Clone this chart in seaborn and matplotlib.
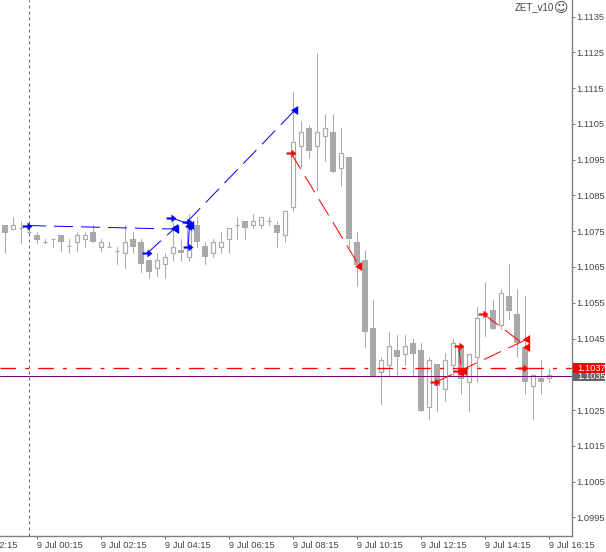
import pandas as pd
import seaborn as sns
import matplotlib.pyplot as plt
from matplotlib.path import Path
from matplotlib.patches import Rectangle
from matplotlib.transforms import blended_transform_factory

# 15 min candles, 9 Jul
opens = [1.10768, 1.10757, 1.10758, 1.10747, 1.10739, 1.10720, 1.10727, 1.10739, 1.10709, 1.10719,
         1.10727, 1.10748, 1.10707, 1.10707, 1.10696, 1.10688, 1.10727, 1.10720, 1.10670, 1.10648,
         1.10657, 1.10688, 1.10698, 1.10677, 1.10768, 1.10709, 1.10688, 1.10707, 1.10727, 1.10767,
         1.10778, 1.10767, 1.10767, 1.10778, 1.10767, 1.10739, 1.10817, 1.10987, 1.11038, 1.10987,
         1.11017, 1.11028, 1.10928, 1.10959, 1.10720, 1.10670, 1.10480, 1.10357, 1.10377, 1.10418,
         1.10408, 1.10438, 1.10418, 1.10258, 1.10379, 1.10308, 1.10377, 1.10427, 1.10327, 1.10397,
         1.10522, 1.10529, 1.10487, 1.10569, 1.10519, 1.10427, 1.10318, 1.10339, 1.10339]
closes = [1.10746, 1.10767, 1.10758, 1.10747, 1.10726, 1.10720, 1.10727, 1.10719, 1.10709, 1.10739,
          1.10739, 1.10719, 1.10719, 1.10707, 1.10696, 1.10719, 1.10707, 1.10657, 1.10637, 1.10670,
          1.10677, 1.10707, 1.10688, 1.10781, 1.10719, 1.10677, 1.10719, 1.10719, 1.10758, 1.10767,
          1.10758, 1.10778, 1.10789, 1.10778, 1.10746, 1.10807, 1.10999, 1.11027, 1.10975, 1.11027,
          1.11038, 1.10917, 1.10968, 1.10727, 1.10656, 1.10467, 1.10345, 1.10389, 1.10428, 1.10397,
          1.10428, 1.10408, 1.10248, 1.10389, 1.10317, 1.10389, 1.10437, 1.10338, 1.10408, 1.10507,
          1.10522, 1.10478, 1.10577, 1.10528, 1.10437, 1.10327, 1.10347, 1.10327, 1.10347]
highs = [1.10768, 1.10789, 1.10778, 1.10759, 1.10748, 1.10728, 1.10727, 1.10739, 1.10727, 1.10748,
         1.10748, 1.10767, 1.10727, 1.10719, 1.10707, 1.10767, 1.10748, 1.10727, 1.10670, 1.10688,
         1.10688, 1.10777, 1.10727, 1.10798, 1.10789, 1.10721, 1.10727, 1.10748, 1.10758, 1.10789,
         1.10778, 1.10798, 1.10789, 1.10789, 1.10778, 1.10807, 1.11140, 1.11059, 1.11047, 1.11248,
         1.11078, 1.11078, 1.11039, 1.10959, 1.10748, 1.10698, 1.10558, 1.10398, 1.10467, 1.10460,
         1.10460, 1.10449, 1.10438, 1.10398, 1.10379, 1.10410, 1.10449, 1.10427, 1.10408, 1.10539,
         1.10607, 1.10558, 1.10588, 1.10659, 1.10588, 1.10569, 1.10347, 1.10390, 1.10367]
lows = [1.10689, 1.10757, 1.10718, 1.10739, 1.10718, 1.10718, 1.10707, 1.10696, 1.10689, 1.10696,
        1.10707, 1.10719, 1.10696, 1.10707, 1.10657, 1.10648, 1.10688, 1.10637, 1.10618, 1.10626,
        1.10618, 1.10668, 1.10668, 1.10668, 1.10707, 1.10657, 1.10677, 1.10688, 1.10688, 1.10727,
        1.10727, 1.10758, 1.10758, 1.10767, 1.10707, 1.10719, 1.10807, 1.10930, 1.10956, 1.10865,
        1.10947, 1.10917, 1.10877, 1.10706, 1.10597, 1.10427, 1.10345, 1.10268, 1.10345, 1.10345,
        1.10377, 1.10345, 1.10248, 1.10226, 1.10248, 1.10276, 1.10345, 1.10296, 1.10247, 1.10327,
        1.10458, 1.10478, 1.10478, 1.10505, 1.10397, 1.10296, 1.10226, 1.10296, 1.10327]

# trades : bar position and price at both ends
blue_x = [(2.75, 21.4), (17.75, 21.25), (20.75, 23.25), (22.75, 36.25), (22.9, 23.06)]
blue_y = [(1.10766, 1.10756), (1.10688, 1.10759), (1.10788, 1.10768), (1.10776, 1.11089), (1.10707, 1.10765)]
red_x = [(35.75, 44.25), (53.75, 65.25), (59.8, 65.25), (56.7, 57.06), (56.6, 57.4)]
red_y = [(1.10969, 1.10654), (1.10327, 1.10448), (1.10519, 1.10427), (1.10429, 1.10357), (1.10360, 1.10360)]
red_open_x = [64.75]
red_open_y = [1.10367]

price_ticks = [1.1135, 1.1125, 1.1115, 1.1105, 1.1095, 1.1085, 1.1075, 1.1065, 1.1055, 1.1045,
               1.1025, 1.1015, 1.1005, 1.0995]
time_pos = [4, 12, 20, 28, 36, 44, 52, 60, 68]
time_labels = ["9 Jul 00:15", "9 Jul 02:15", "9 Jul 04:15", "9 Jul 06:15", "9 Jul 08:15",
               "9 Jul 10:15", "9 Jul 12:15", "9 Jul 14:15", "9 Jul 16:15"]
first_label = "8 Jul 22:15"
ask_price = 1.10367
bid_price = 1.10345

sns.set_style("white")
plt.rcParams['font.family'] = ['Liberation Sans', 'DejaVu Sans']

GREY = "#a9a9a9"
TXT = "#444444"
PX = 0.72
FS = 6.7

df = pd.DataFrame({"bar": range(len(opens)), "open": opens, "close": closes, "high": highs, "low": lows})
df["bottom"] = df[["open", "close"]].min(axis=1)
df["height"] = (df["close"] - df["open"]).abs()
up = df[df["close"] >= df["open"]]
down = df[df["close"] < df["open"]]
wicks = df.melt(id_vars="bar", value_vars=["high", "low"], value_name="price")

fig = plt.figure(figsize=(6.06, 5.52), dpi=100)
ax = fig.add_axes([0, 16 / 552, 571.5 / 606, 536 / 552])

sns.lineplot(data=wicks, x="bar", y="price", units="bar", estimator=None, color=GREY, lw=PX, ax=ax, zorder=2, legend=False)
sns.barplot(data=down, x="bar", y="height", bottom=down["bottom"].values, native_scale=True, width=0.7,
            color=GREY, saturation=1, errorbar=None, ax=ax, zorder=3, linewidth=0)
sns.barplot(data=up, x="bar", y="height", bottom=up["bottom"].values, native_scale=True, width=0.56,
            color="white", saturation=1, errorbar=None, ax=ax, zorder=3, edgecolor=GREY, linewidth=0.85)

# marqueurs des trades
start_mark = Path([(-1, -0.22), (0, -0.22), (0, -0.8), (1, 0), (0, 0.8), (0, 0.22), (-1, 0.22), (-1, -0.22)], closed=True)
end_mark = Path([(-1, 0), (0.6, -1), (0.6, 1), (-1, 0)], closed=True)


def draw_trades(xs, ys, col):
    for xp, yp in zip(xs, ys):
        sns.lineplot(x=list(xp), y=list(yp), color=col, lw=PX, linestyle=(0, (19, 8)), sort=False,
                     estimator=None, ax=ax, zorder=5, legend=False)
        sns.scatterplot(x=[xp[0]], y=[yp[0]], marker=start_mark, s=50, color=col, linewidth=0, ax=ax, zorder=6, legend=False)
        sns.scatterplot(x=[xp[1]], y=[yp[1]], marker=end_mark, s=42, color=col, linewidth=0, ax=ax, zorder=6, legend=False)


draw_trades(blue_x, blue_y, "#0000ff")
draw_trades(red_x, red_y, "#ff0000")
sns.scatterplot(x=red_open_x, y=red_open_y, marker=start_mark, s=50, color="#ff0000", linewidth=0, ax=ax, zorder=6, legend=False)

ax.axhline(bid_price, color="#800080", lw=PX, zorder=4)
ax.axhline(ask_price, color="#ff0000", lw=PX * 1.3, linestyle=(0, (12, 7, 3, 7)), zorder=5)
ax.axvline(3.06, color="#666666", lw=PX, linestyle=(0, (3, 3)), zorder=4)

ax.set_xlim(-0.625, 70.8125)
ax.set_ylim(1.098977, 1.113967)
ax.set_xlabel("")
ax.set_ylabel("")

ax.yaxis.tick_right()
ax.set_yticks(price_ticks)
ax.set_yticklabels([f"{p:.4f}" for p in price_ticks])
ax.set_xticks(time_pos)
ax.set_xticklabels(time_labels, ha="left")
ax.tick_params(axis="y", direction="out", length=2.2, width=0.72, color="#808080", labelcolor=TXT, labelsize=FS, pad=1.5, right=True)
ax.tick_params(axis="x", direction="out", length=2.2, width=0.72, color="#808080", labelcolor=TXT, labelsize=FS, pad=1.5, bottom=True)

for side in ["left", "top"]:
    ax.spines[side].set_visible(False)
for side in ["right", "bottom"]:
    ax.spines[side].set_color("#808080")
    ax.spines[side].set_linewidth(1.0)

# label coupe a gauche
tr = blended_transform_factory(ax.transData, ax.transAxes)
ax.text(-4.1, -9 / 536, first_label, transform=tr, ha="left", va="center", fontsize=FS, color=TXT, clip_on=False)

# etiquettes de prix a droite
ytr = ax.get_yaxis_transform()
xw = (605 - 573) / 571.5
h = 10.5 * (1.113967 - 1.098977) / 536
ax.add_patch(Rectangle((1.003, bid_price - h / 2), xw, h, transform=ytr, color="#666666", clip_on=False, lw=0, zorder=7))
ax.text(1.0095, bid_price, f"{bid_price:.4f}", transform=ytr, color="white", fontsize=FS, va="center", clip_on=False, zorder=8)
ax.add_patch(Rectangle((1.003, ask_price - h / 2), xw, h, transform=ytr, color="#ff0000", clip_on=False, lw=0, zorder=9))
ax.text(1.0095, ask_price, f"{ask_price:.4f}", transform=ytr, color="white", fontsize=FS, va="center", clip_on=False, zorder=10)

ax.text(554 / 571.5, 1 - 7 / 536, "ZET_v10", transform=ax.transAxes, ha="right", va="center", fontsize=7, color=TXT)
ax.text(561 / 571.5, 1 - 8 / 536, "\u263a", transform=ax.transAxes, ha="center", va="center", fontsize=10,
        color=TXT, family="DejaVu Sans")

fig.savefig("out.png", dpi=100)
